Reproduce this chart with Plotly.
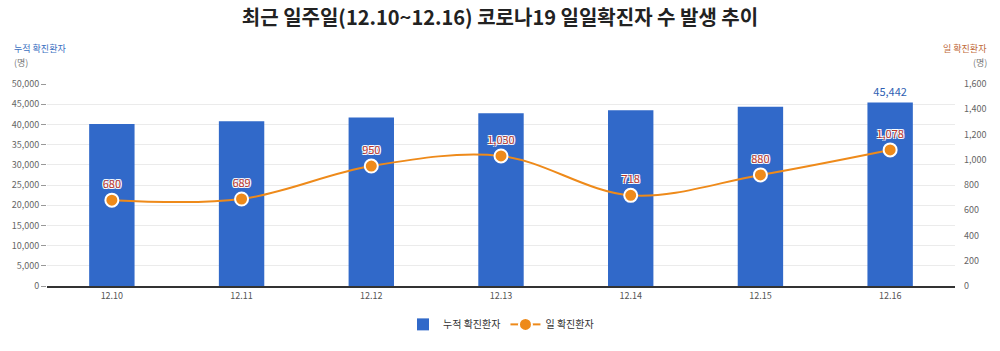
import plotly.graph_objects as go

dates = ["12.10", "12.11", "12.12", "12.13", "12.14", "12.15", "12.16"]
cumulative = [40098, 40786, 41736, 42766, 43484, 44364, 45442]
daily = [680, 689, 950, 1030, 718, 880, 1078]

left_ticks = list(range(0, 50001, 5000))
right_ticks = list(range(0, 1601, 200))

FONT = "Noto Sans CJK KR"
BLUE = "#3169c9"
ORANGE = "#ee8a1a"

bar_text = ["" for _ in cumulative]
bar_text[-1] = f"{cumulative[-1]:,}"

fig = go.Figure()
fig.add_trace(go.Bar(
    x=dates, y=cumulative, name="누적 확진환자",
    marker=dict(color=BLUE, line=dict(width=0)),
    width=0.35,
    text=bar_text, textposition="outside", cliponaxis=False,
    textfont=dict(color="#2f5fb3", size=11, family=FONT),
    yaxis="y",
))
fig.add_trace(go.Scatter(
    x=dates, y=daily, name="일 확진환자",
    mode="lines+markers+text",
    line=dict(color=ORANGE, width=2, shape="spline", smoothing=1.0),
    marker=dict(color=ORANGE, size=13, line=dict(color="white", width=2)),
    text=[f"{v:,}" for v in daily], textposition="top center",
    textfont=dict(color="#c0392b", size=11, family=FONT,
                  shadow="1px 1px 0 white, -1px -1px 0 white, 1px -1px 0 white, -1px 1px 0 white"),
    cliponaxis=False,
    yaxis="y2",
))

fig.update_layout(
    width=1000, height=351,
    margin=dict(l=45, r=45, t=84, b=65),
    paper_bgcolor="white", plot_bgcolor="white",
    font=dict(family=FONT, color="#555555"),
    title=dict(text="<b>최근 일주일(12.10~12.16) 코로나19 일일확진자 수 발생 추이</b>",
               x=0.5, xanchor="center", y=0.95, yanchor="middle",
               font=dict(size=20, color="#222222", family=FONT)),
    xaxis=dict(tickfont=dict(size=9, color="#555555"), showgrid=False,
               showline=True, linecolor="#333333", linewidth=1.5, ticks=""),
    yaxis=dict(range=[0, 50000], tickvals=left_ticks, ticktext=[f"{v:,}" for v in left_ticks],
               tickfont=dict(size=9, color="#666666"), gridcolor="#ebebeb", gridwidth=1,
               zeroline=False, ticks="outside", ticklen=5, tickcolor="#999999"),
    yaxis2=dict(range=[0, 1600], tickvals=right_ticks, ticktext=[f"{v:,}" for v in right_ticks],
                overlaying="y", side="right", showgrid=False, zeroline=False,
                tickfont=dict(size=9, color="#666666"), ticklabelstandoff=8),
    legend=dict(orientation="h", x=0.5, xanchor="center", y=-0.19, yanchor="middle",
                font=dict(size=10, color="#333333", family=FONT), itemwidth=30),
    bargap=0.65,
    showlegend=True,
)

fig.add_annotation(text="누적 확진환자", xref="paper", yref="paper", x=-0.038, y=1.0,
                   yshift=36, xanchor="left", yanchor="middle", showarrow=False,
                   font=dict(size=9, color="#3a6fbf", family=FONT))
fig.add_annotation(text="(명)", xref="paper", yref="paper", x=-0.038, y=1.0,
                   yshift=22, xanchor="left", yanchor="middle", showarrow=False,
                   font=dict(size=9, color="#777777", family=FONT))
fig.add_annotation(text="일 확진환자", xref="paper", yref="paper", x=1.037, y=1.0,
                   yshift=36, xanchor="right", yanchor="middle", showarrow=False,
                   font=dict(size=9, color="#c06a3a", family=FONT))
fig.add_annotation(text="(명)", xref="paper", yref="paper", x=1.037, y=1.0,
                   yshift=22, xanchor="right", yanchor="middle", showarrow=False,
                   font=dict(size=9, color="#777777", family=FONT))

fig.write_html("out.html")
